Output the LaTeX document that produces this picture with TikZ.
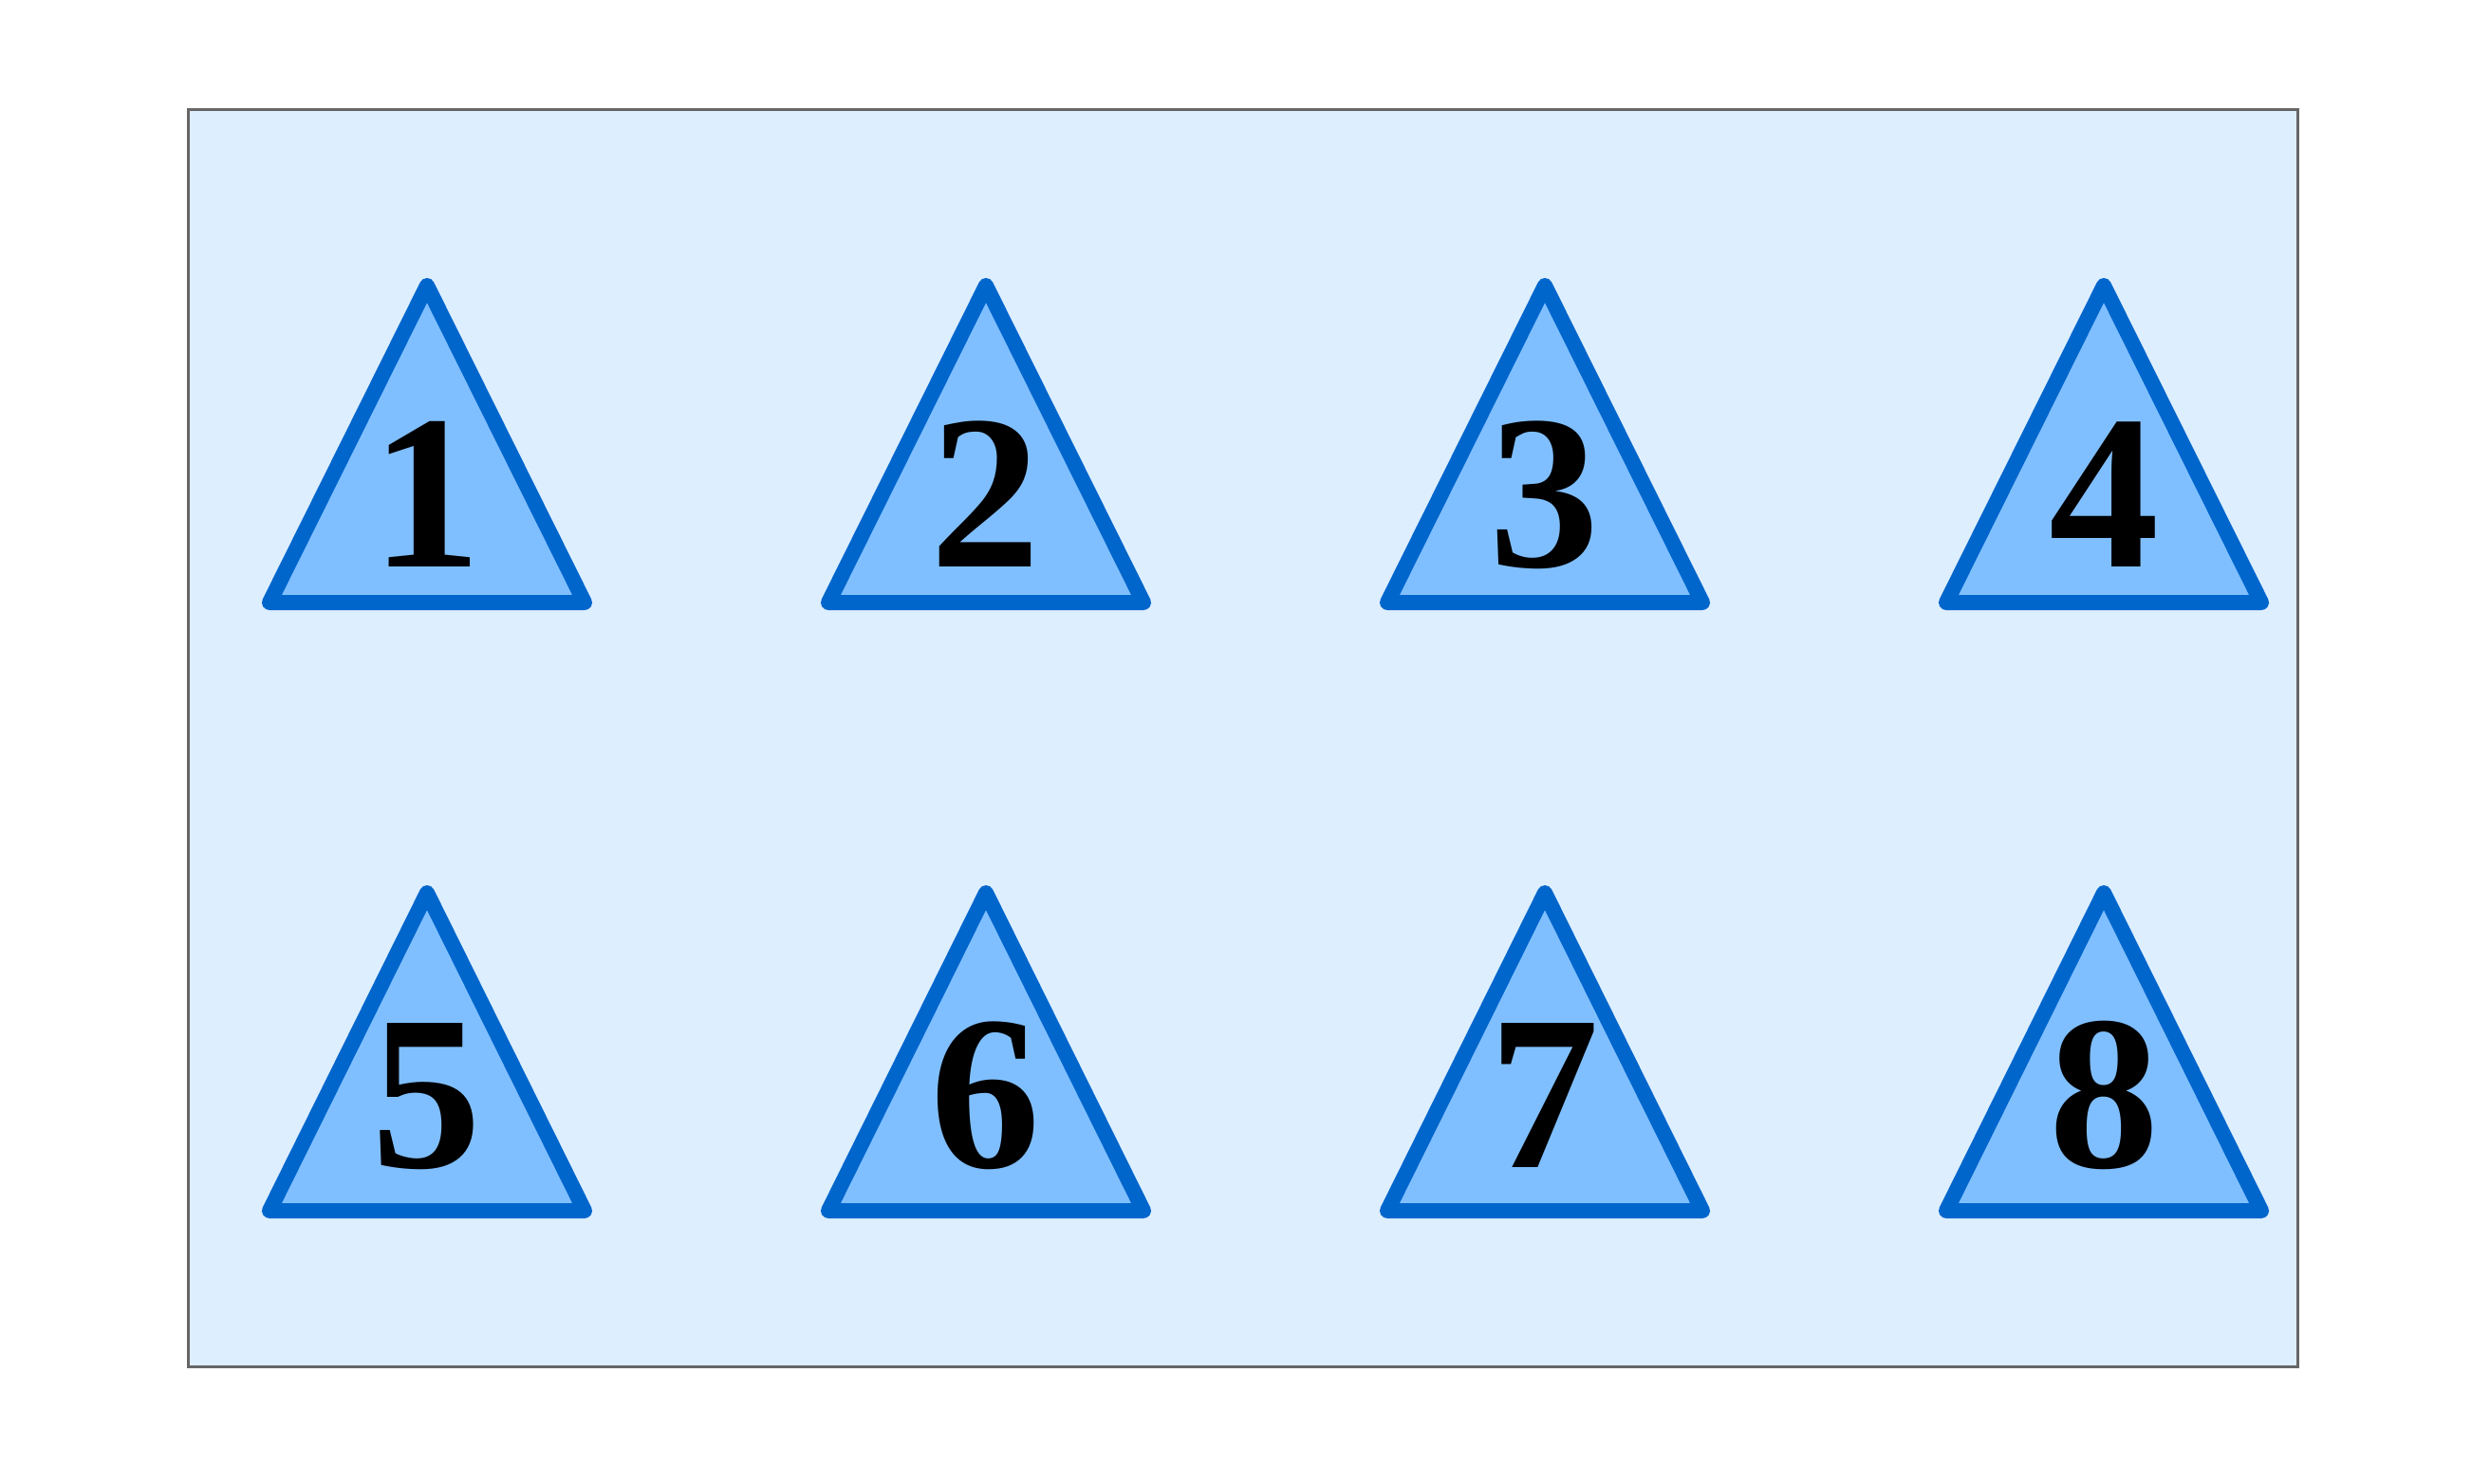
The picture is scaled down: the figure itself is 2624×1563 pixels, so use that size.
\documentclass[tikz,border=0pt]{standalone}
\usepackage{fontspec}
\setmainfont{Liberation Serif}
\definecolor{bgfill}{HTML}{DDEEFF}
\definecolor{bgedge}{HTML}{666666}
\definecolor{trifill}{HTML}{80BFFF}
\definecolor{triedge}{HTML}{0066CC}
\begin{document}
\begin{tikzpicture}[x=0.01cm,y=-0.01cm,
  frame/.style={draw=bgedge, fill=bgfill, line width=0.03cm, inner sep=0pt},
  tri/.style={draw=triedge, fill=trifill, line width=0.16cm, line join=round},
  digit/.style={font=\fontsize{66}{66}\selectfont\bfseries, anchor=base, inner sep=0pt}]
\useasboundingbox (0,0) rectangle (2624,1563);
\node[frame, minimum width=22.22cm, minimum height=13.24cm] (frame) at (1310,778) {};
\foreach \x [count=\c] in {450,1039,1628,2217} {
  \draw[tri] (\x,301) -- (\x-166,635) -- (\x+166,635) -- cycle;
  \node[digit] (n\c) at (\x,597) {\c};
  \pgfmathtruncatemacro\d{\c+4}
  \draw[tri] (\x,941) -- (\x-166,1276) -- (\x+166,1276) -- cycle;
  \node[digit] (n\d) at (\x,1230) {\d};
}
\end{tikzpicture}
\end{document}
